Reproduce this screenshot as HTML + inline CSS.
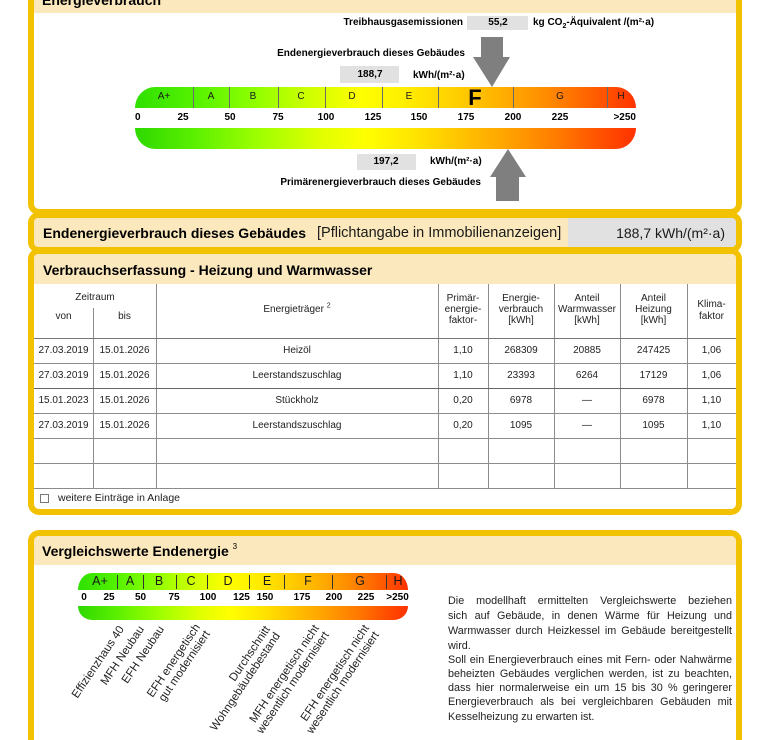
<!DOCTYPE html>
<html><head><meta charset="utf-8">
<style>
html{margin:0;padding:0;width:770px;height:740px;overflow:hidden}
body{margin:0;padding:0;width:770px;height:740px;overflow:hidden;position:relative;background:#fff;font-family:"Liberation Sans",Arial,sans-serif;color:#1a1a1a}
.p{position:absolute;left:28px;width:702px;border:6px solid #f2c200;border-radius:11px;background:#fff}
.a{position:absolute;white-space:nowrap;line-height:1}
.b{font-weight:bold}
.bg{position:absolute;background:#fbe8bd}
.gb{position:absolute;background:#e1e1e1}
.c{transform:translateX(-50%)}
.hl{position:absolute;left:34px;width:702px;height:1px;background:#8c8c8c}
.vl{position:absolute;width:1px;background:#8c8c8c}
.row{position:absolute;left:0;width:770px;height:25px}
.cl{position:absolute;top:0;height:25px;line-height:25px;text-align:center;font-size:10px;color:#222;white-space:nowrap}
.hd{position:absolute;text-align:center;font-size:10px;line-height:10.8px;color:#222;white-space:nowrap}
.dv{position:absolute;width:1px;background:#6a6a6a;top:87px;height:21px}
.dv2{position:absolute;width:1.5px;background:#333;top:575px;height:14px}
.rl{position:absolute;text-align:right;font-size:11.5px;line-height:12px;transform-origin:100% 0;transform:rotate(-56deg);white-space:nowrap;color:#222}
.tx{position:absolute;left:448px;width:284px;font-size:10.8px;line-height:11px;color:#222;text-align:justify;text-align-last:justify;white-space:nowrap}
</style></head><body>

<!-- panels -->
<div class="p" style="top:-30px;height:233px"></div>
<div class="p" style="top:212px;height:29px"></div>
<div class="p" style="top:248px;height:255px"></div>
<div class="p" style="top:530px;height:204px;border-bottom:none;border-radius:11px 11px 0 0"></div>

<!-- Panel 1 -->
<div class="bg" style="left:34px;top:-24px;width:702px;height:37px"></div>
<div class="a b" style="left:42px;top:-7px;font-size:14px;color:#000">Energieverbrauch</div>

<div class="a b" style="right:307px;top:18px;font-size:10px;color:#000">Treibhausgasemissionen</div>
<div class="gb" style="left:467px;top:16px;width:61px;height:14px"></div>
<div class="a b c" style="left:498px;top:18px;font-size:10px;color:#000">55,2</div>
<div class="a b" style="left:533px;top:18px;font-size:10px;color:#000">kg CO<sub style="font-size:7px;line-height:0">2</sub>-Äquivalent /(m²·a)</div>

<div class="a b" style="right:305px;top:49px;font-size:10px;color:#000">Endenergieverbrauch dieses Gebäudes</div>
<div class="gb" style="left:340px;top:66px;width:59px;height:17px"></div>
<div class="a b c" style="left:370px;top:70px;font-size:10px;color:#000">188,7</div>
<div class="a b" style="left:413px;top:71px;font-size:10px;color:#000">kWh/(m²·a)</div>

<div style="position:absolute;left:135px;top:87px;width:501px;height:21px;border-radius:20px 20px 0 0/21px 21px 0 0;background:linear-gradient(to right,#2fe000 0%,#55f200 12%,#90ff00 24%,#d0ff00 35%,#ffff00 45%,#fff000 53%,#ffd200 63%,#ffb400 72%,#ff8c00 82%,#ff5c00 92%,#ff3200 100%)"></div>
<div class="dv" style="left:193px"></div>
<div class="dv" style="left:229px"></div>
<div class="dv" style="left:278px"></div>
<div class="dv" style="left:325px"></div>
<div class="dv" style="left:382px"></div>
<div class="dv" style="left:438px"></div>
<div class="dv" style="left:513px"></div>
<div class="dv" style="left:607px"></div>
<div class="a c" style="left:164px;top:92px;font-size:10px">A+</div>
<div class="a c" style="left:211px;top:92px;font-size:10px">A</div>
<div class="a c" style="left:253px;top:92px;font-size:10px">B</div>
<div class="a c" style="left:301px;top:92px;font-size:10px">C</div>
<div class="a c" style="left:352px;top:92px;font-size:10px">D</div>
<div class="a c" style="left:409px;top:92px;font-size:10px">E</div>
<div class="a b c" style="left:475px;top:87px;font-size:22px;color:#000">F</div>
<div class="a c" style="left:560px;top:92px;font-size:10px">G</div>
<div class="a c" style="left:621px;top:92px;font-size:10px">H</div>

<div class="a b" style="left:135px;top:113px;font-size:10px;color:#000">0</div>
<div class="a b c" style="left:183px;top:113px;font-size:10px;color:#000">25</div>
<div class="a b c" style="left:230px;top:113px;font-size:10px;color:#000">50</div>
<div class="a b c" style="left:278px;top:113px;font-size:10px;color:#000">75</div>
<div class="a b c" style="left:326px;top:113px;font-size:10px;color:#000">100</div>
<div class="a b c" style="left:373px;top:113px;font-size:10px;color:#000">125</div>
<div class="a b c" style="left:419px;top:113px;font-size:10px;color:#000">150</div>
<div class="a b c" style="left:466px;top:113px;font-size:10px;color:#000">175</div>
<div class="a b c" style="left:513px;top:113px;font-size:10px;color:#000">200</div>
<div class="a b c" style="left:560px;top:113px;font-size:10px;color:#000">225</div>
<div class="a b" style="right:134px;top:113px;font-size:10px;color:#000">&gt;250</div>

<div style="position:absolute;left:135px;top:128px;width:501px;height:21px;border-radius:0 0 20px 20px/0 0 21px 21px;background:linear-gradient(to right,#2ed800 0%,#5cf000 12%,#a0ff00 25%,#e0ff00 37%,#ffff00 46%,#ffe400 56%,#ffc000 66%,#ffa000 75%,#ff7800 85%,#ff5000 93%,#ff3200 100%)"></div>

<div class="gb" style="left:357px;top:154px;width:59px;height:16px"></div>
<div class="a b c" style="left:386px;top:157px;font-size:10px;color:#000">197,2</div>
<div class="a b" style="left:430px;top:157px;font-size:10px;color:#000">kWh/(m²·a)</div>
<div class="a b" style="right:289px;top:178px;font-size:10px;color:#000">Primärenergieverbrauch dieses Gebäudes</div>

<svg style="position:absolute;left:0;top:0" width="770" height="740">
<polygon points="481,37 503,37 503,57 510,57 492,87 473,57 481,57" fill="#7f7f7f"/>
<polygon points="508,149 526,177 519,177 519,201 496,201 496,177 490,177" fill="#7f7f7f"/>
</svg>

<!-- Panel 2 -->
<div class="bg" style="left:34px;top:218px;width:534px;height:29px;border-radius:4px 0 0 4px"></div>
<div class="gb" style="left:568px;top:218px;width:168px;height:29px;border-radius:0 4px 4px 0"></div>
<div class="a b" style="left:43px;top:226px;font-size:14px;color:#000">Endenergieverbrauch dieses Gebäudes</div>
<div class="a" style="left:317px;top:225.5px;font-size:14.5px">[Pflichtangabe in Immobilienanzeigen]</div>
<div class="a" style="right:45px;top:226px;font-size:14px">188,7 kWh/(m²·a)</div>

<!-- Panel 3 -->
<div class="bg" style="left:34px;top:254px;width:702px;height:30px;border-radius:4px 4px 0 0"></div>
<div class="a b" style="left:43px;top:263px;font-size:14px;color:#000">Verbrauchserfassung - Heizung und Warmwasser</div>

<div class="vl" style="left:93px;top:308px;height:180px"></div>
<div class="vl" style="left:156px;top:284px;height:204px"></div>
<div class="vl" style="left:438px;top:284px;height:204px"></div>
<div class="vl" style="left:488px;top:284px;height:204px"></div>
<div class="vl" style="left:554px;top:284px;height:204px"></div>
<div class="vl" style="left:620px;top:284px;height:204px"></div>
<div class="vl" style="left:687px;top:284px;height:204px"></div>
<div class="hl" style="top:338px;background:#777"></div>
<div class="hl" style="top:363px"></div>
<div class="hl" style="top:388px;background:#666"></div>
<div class="hl" style="top:413px"></div>
<div class="hl" style="top:438px"></div>
<div class="hl" style="top:463px"></div>
<div class="hl" style="top:488px"></div>

<div class="hd" style="left:34px;width:122px;top:293px">Zeitraum</div>
<div class="hd" style="left:34px;width:59px;top:312px">von</div>
<div class="hd" style="left:93px;width:63px;top:312px">bis</div>
<div class="hd" style="left:156px;width:282px;top:305px">Energieträger <sup style="font-size:7px;line-height:0">2</sup></div>
<div class="hd" style="left:438px;width:50px;top:294px">Primär-<br>energie-<br>faktor-</div>
<div class="hd" style="left:488px;width:66px;top:294px">Energie-<br>verbrauch<br>[kWh]</div>
<div class="hd" style="left:554px;width:66px;top:294px">Anteil<br>Warmwasser<br>[kWh]</div>
<div class="hd" style="left:620px;width:67px;top:294px">Anteil<br>Heizung<br>[kWh]</div>
<div class="hd" style="left:687px;width:49px;top:299px;line-height:12px">Klima-<br>faktor</div>

<div class="row" style="top:338px">
<div class="cl" style="left:34px;width:59px">27.03.2019</div><div class="cl" style="left:93px;width:63px">15.01.2026</div><div class="cl" style="left:156px;width:282px">Heizöl</div><div class="cl" style="left:438px;width:50px">1,10</div><div class="cl" style="left:488px;width:66px">268309</div><div class="cl" style="left:554px;width:66px">20885</div><div class="cl" style="left:620px;width:67px">247425</div><div class="cl" style="left:687px;width:49px">1,06</div>
</div>
<div class="row" style="top:363px">
<div class="cl" style="left:34px;width:59px">27.03.2019</div><div class="cl" style="left:93px;width:63px">15.01.2026</div><div class="cl" style="left:156px;width:282px">Leerstandszuschlag</div><div class="cl" style="left:438px;width:50px">1,10</div><div class="cl" style="left:488px;width:66px">23393</div><div class="cl" style="left:554px;width:66px">6264</div><div class="cl" style="left:620px;width:67px">17129</div><div class="cl" style="left:687px;width:49px">1,06</div>
</div>
<div class="row" style="top:388px">
<div class="cl" style="left:34px;width:59px">15.01.2023</div><div class="cl" style="left:93px;width:63px">15.01.2026</div><div class="cl" style="left:156px;width:282px">Stückholz</div><div class="cl" style="left:438px;width:50px">0,20</div><div class="cl" style="left:488px;width:66px">6978</div><div class="cl" style="left:554px;width:66px">—</div><div class="cl" style="left:620px;width:67px">6978</div><div class="cl" style="left:687px;width:49px">1,10</div>
</div>
<div class="row" style="top:413px">
<div class="cl" style="left:34px;width:59px">27.03.2019</div><div class="cl" style="left:93px;width:63px">15.01.2026</div><div class="cl" style="left:156px;width:282px">Leerstandszuschlag</div><div class="cl" style="left:438px;width:50px">0,20</div><div class="cl" style="left:488px;width:66px">1095</div><div class="cl" style="left:554px;width:66px">—</div><div class="cl" style="left:620px;width:67px">1095</div><div class="cl" style="left:687px;width:49px">1,10</div>
</div>

<div style="position:absolute;left:40px;top:494px;width:7px;height:7px;border:1px solid #777;background:#fff"></div>
<div class="a" style="left:58px;top:493px;font-size:10.5px;color:#222">weitere Einträge in Anlage</div>

<!-- Panel 4 -->
<div class="bg" style="left:34px;top:536px;width:702px;height:29px;border-radius:5px 5px 0 0"></div>
<div class="a b" style="left:42px;top:544px;font-size:14px;color:#000">Vergleichswerte Endenergie <sup style="font-size:8px;font-weight:normal;line-height:0;vertical-align:7px">3</sup></div>

<div style="position:absolute;left:78px;top:573px;width:330px;height:17px;border-radius:14px 14px 0 0/17px 17px 0 0;background:linear-gradient(to right,#2fe000 0%,#55f200 12%,#90ff00 24%,#d0ff00 35%,#ffff00 45%,#fff000 53%,#ffd200 63%,#ffb400 72%,#ff8c00 82%,#ff5c00 92%,#ff3200 100%)"></div>
<div class="dv2" style="left:116.5px"></div>
<div class="dv2" style="left:142.5px"></div>
<div class="dv2" style="left:175.5px"></div>
<div class="dv2" style="left:206.5px"></div>
<div class="dv2" style="left:248.5px"></div>
<div class="dv2" style="left:283.5px"></div>
<div class="dv2" style="left:331.5px"></div>
<div class="dv2" style="left:385.5px"></div>
<div class="a c" style="left:100px;top:575px;font-size:12.5px">A+</div>
<div class="a c" style="left:130px;top:575px;font-size:12.5px">A</div>
<div class="a c" style="left:159px;top:575px;font-size:12.5px">B</div>
<div class="a c" style="left:191px;top:575px;font-size:12.5px">C</div>
<div class="a c" style="left:228px;top:575px;font-size:12.5px">D</div>
<div class="a c" style="left:267px;top:575px;font-size:12.5px">E</div>
<div class="a c" style="left:308px;top:575px;font-size:12.5px">F</div>
<div class="a c" style="left:360px;top:575px;font-size:12.5px">G</div>
<div class="a c" style="left:398px;top:575px;font-size:12.5px">H</div>

<div class="a b c" style="left:84px;top:593px;font-size:10px;color:#000">0</div>
<div class="a b c" style="left:109px;top:593px;font-size:10px;color:#000">25</div>
<div class="a b c" style="left:140.5px;top:593px;font-size:10px;color:#000">50</div>
<div class="a b c" style="left:174px;top:593px;font-size:10px;color:#000">75</div>
<div class="a b c" style="left:208px;top:593px;font-size:10px;color:#000">100</div>
<div class="a b c" style="left:241.5px;top:593px;font-size:10px;color:#000">125</div>
<div class="a b c" style="left:265px;top:593px;font-size:10px;color:#000">150</div>
<div class="a b c" style="left:302px;top:593px;font-size:10px;color:#000">175</div>
<div class="a b c" style="left:334px;top:593px;font-size:10px;color:#000">200</div>
<div class="a b c" style="left:366px;top:593px;font-size:10px;color:#000">225</div>
<div class="a b c" style="left:397.5px;top:593px;font-size:10px;color:#000">&gt;250</div>

<div style="position:absolute;left:78px;top:606px;width:330px;height:14px;border-radius:0 0 14px 14px/0 0 14px 14px;background:linear-gradient(to right,#2ed800 0%,#5cf000 12%,#a0ff00 25%,#e0ff00 37%,#ffff00 46%,#ffe400 56%,#ffc000 66%,#ffa000 75%,#ff7800 85%,#ff5000 93%,#ff3200 100%)"></div>

<div class="rl" style="left:17px;top:624px;width:100px">Effizienzhaus 40</div>
<div class="rl" style="left:37px;top:624px;width:100px">MFH Neubau</div>
<div class="rl" style="left:57px;top:624px;width:100px">EFH Neubau</div>
<div class="rl" style="left:71px;top:622px;width:122px">EFH energetisch<br>gut modernisiert</div>
<div class="rl" style="left:141px;top:624px;width:122px">Durchschnitt<br>Wohngebäudebestand</div>
<div class="rl" style="left:190px;top:623px;width:122px">MFH energetisch nicht<br>wesentlich modernisiert</div>
<div class="rl" style="left:240px;top:623px;width:122px">EFH energetisch nicht<br>wesentlich modernisiert</div>

<div class="tx" style="top:596px">Die modellhaft ermittelten Vergleichswerte beziehen</div>
<div class="tx" style="top:611px">sich auf Gebäude, in denen Wärme für Heizung und</div>
<div class="tx" style="top:625.5px">Warmwasser durch Heizkessel im Gebäude bereitgestellt</div>
<div class="tx" style="top:640.5px;text-align:left;text-align-last:left">wird.</div>
<div class="tx" style="top:654.5px">Soll ein Energieverbrauch eines mit Fern- oder Nahwärme</div>
<div class="tx" style="top:668.5px">beheizten Gebäudes verglichen werden, ist zu beachten,</div>
<div class="tx" style="top:682.5px">dass hier normalerweise ein um 15 bis 30 % geringerer</div>
<div class="tx" style="top:697px">Energieverbrauch als bei vergleichbaren Gebäuden mit</div>
<div class="tx" style="top:711.5px;text-align:left;text-align-last:left">Kesselheizung zu erwarten ist.</div>

</body></html>
